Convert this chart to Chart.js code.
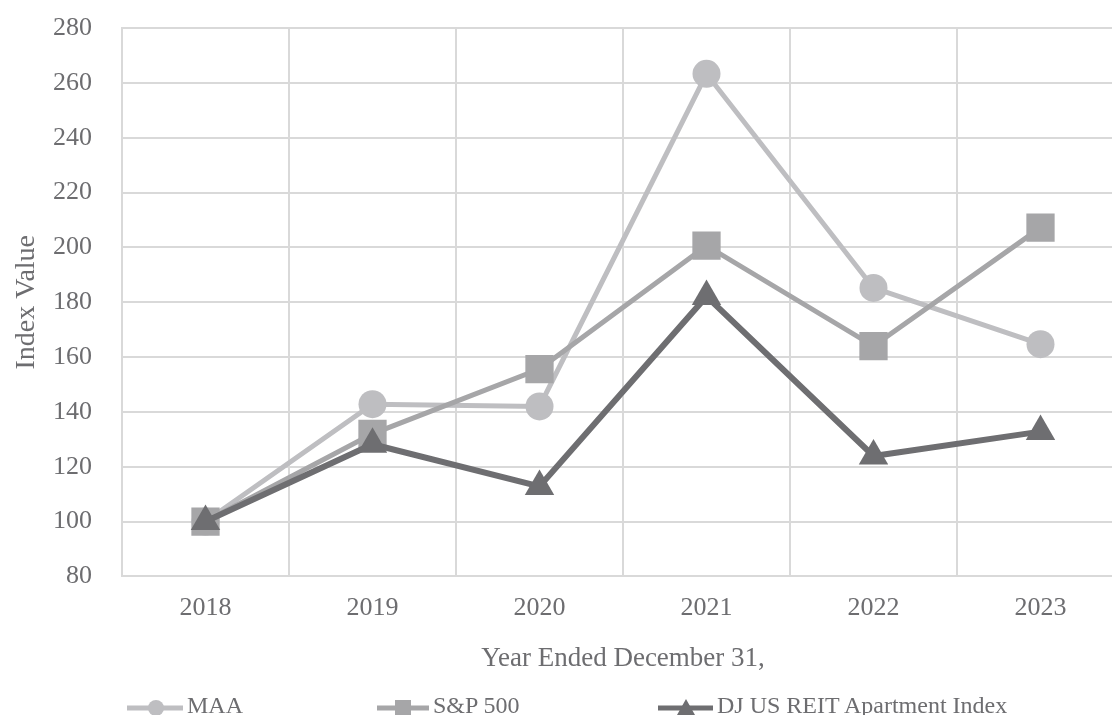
<!DOCTYPE html>
<html lang="en">
<head>
  <meta charset="UTF-8" />
  <title>Index Value</title>
  <script src="https://cdn.jsdelivr.net/npm/chart.js"></script>
  <style>
    body { margin: 0; background: #fff; overflow: hidden; font-family: "Liberation Serif", serif; }
    #wrap { position: relative; width: 1124px; height: 715px; }
    #legend { position: absolute; left: 0; top: 0; width: 1112px; height: 715px; pointer-events: none; }
    .item { position: absolute; top: 693px; height: 24px; display: flex; align-items: center; }
    .item span { font-size: 24px; line-height: 24px; color: #6d6d70; white-space: nowrap; margin-left: 4px; }
    .item svg { display: block; margin-top: 6px; }
  </style>
</head>
<body>
  <div id="wrap">
    <canvas id="chart"></canvas>
    <div id="legend">
      <div class="item" style="left:127px">
        <svg width="56" height="20"><line x1="0" y1="10" x2="56" y2="10" stroke="#bebec1" stroke-width="5"/><circle cx="29" cy="10" r="8" fill="#bebec1"/></svg>
        <span>MAA</span>
      </div>
      <div class="item" style="left:377px">
        <svg width="52" height="20"><line x1="0" y1="10" x2="52" y2="10" stroke="#a6a6a8" stroke-width="5"/><rect x="18" y="2" width="16" height="16" fill="#a6a6a8"/></svg>
        <span>S&amp;P 500</span>
      </div>
      <div class="item" style="left:658px">
        <svg width="55" height="20"><line x1="0" y1="10" x2="55" y2="10" stroke="#6e6e71" stroke-width="5"/><polygon points="28,1 37,17 19,17" fill="#6e6e71"/></svg>
        <span>DJ US REIT Apartment Index</span>
      </div>
    </div>
  </div>

  <script>
    const years = ['2018', '2019', '2020', '2021', '2022', '2023'];
    const maa = [100, 142.8, 142.0, 263.3, 185.2, 164.7];
    const sp500 = [100, 132.0, 155.6, 200.6, 164.0, 207.2];
    const djReit = [100, 128.2, 112.8, 182.1, 123.9, 132.8];

    const textColor = '#6d6d70';
    const gridColor = '#d9d9d9';

    new Chart(document.getElementById('chart'), {
      type: 'line',
      data: {
        labels: years,
        datasets: [
          {
            label: 'MAA', data: maa, order: 2,
            borderColor: '#bebec1', backgroundColor: '#bebec1', borderWidth: 5,
            pointStyle: 'circle', pointRadius: 14, pointHoverRadius: 14, pointBorderWidth: 0
          },
          {
            label: 'S&P 500', data: sp500, order: 1,
            borderColor: '#a6a6a8', backgroundColor: '#a6a6a8', borderWidth: 5,
            pointStyle: 'rect', pointRadius: 20, pointHoverRadius: 20, pointBorderWidth: 0
          },
          {
            label: 'DJ US REIT Apartment Index', data: djReit, order: 0,
            borderColor: '#6e6e71', backgroundColor: '#6e6e71', borderWidth: 6,
            pointStyle: 'triangle', pointRadius: 17, pointHoverRadius: 17, pointBorderWidth: 0
          }
        ]
      },
      options: {
        responsive: true,
        maintainAspectRatio: false,
        animation: false,
        layout: { autoPadding: false, padding: { top: 28, right: 0, bottom: 20, left: 0 } },
        plugins: { legend: { display: false }, tooltip: { enabled: false } },
        scales: {
          x: {
            offset: true,
            grid: { offset: true, color: gridColor, lineWidth: 2, drawTicks: false },
            border: { color: gridColor, width: 2 },
            ticks: { color: textColor, padding: 16, font: { family: 'Liberation Serif', size: 26 } },
            title: {
              display: true, text: 'Year Ended December 31,', color: textColor,
              padding: { top: 3, bottom: 20 },
              font: { family: 'Liberation Serif', size: 27 }
            }
          },
          y: {
            min: 80, max: 280,
            grid: { color: gridColor, lineWidth: 2, drawTicks: false },
            border: { color: gridColor, width: 2 },
            ticks: { stepSize: 20, color: textColor, padding: 30, font: { family: 'Liberation Serif', size: 26 } },
            title: {
              display: true, text: 'Index Value', color: textColor,
              padding: { top: 10, bottom: 10 },
              font: { family: 'Liberation Serif', size: 28 }
            },
            afterFit: function (scale) {
              scale.width = 122;
              scale.paddingTop = 0;
              scale.paddingBottom = 0;
            }
          }
        }
      }
    });
  </script>
</body>
</html>
